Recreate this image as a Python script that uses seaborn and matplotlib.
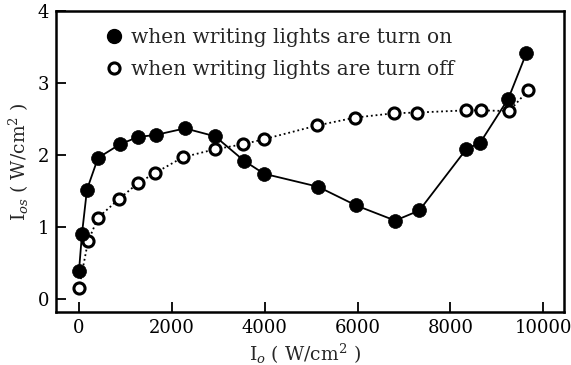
import matplotlib
matplotlib.use("Agg")
import matplotlib.pyplot as plt
from matplotlib.lines import Line2D
import seaborn as sns
import pandas as pd

# Data
x_on = [0, 65, 172, 410, 884, 1272, 1660, 2284, 2931, 3556, 3987, 5150, 5970, 6810, 7330, 8340, 8640, 9246, 9634]
y_on = [0.39, 0.91, 1.52, 1.96, 2.15, 2.25, 2.28, 2.37, 2.26, 1.92, 1.74, 1.56, 1.30, 1.09, 1.23, 2.08, 2.17, 2.78, 3.41]

x_off = [0, 194, 410, 862, 1272, 1638, 2241, 2931, 3534, 3987, 5129, 5948, 6789, 7284, 8340, 8664, 9267, 9677]
y_off = [0.15, 0.80, 1.13, 1.39, 1.61, 1.75, 1.97, 2.08, 2.15, 2.22, 2.41, 2.52, 2.58, 2.59, 2.62, 2.62, 2.61, 2.90]

label_on = "when writing lights are turn on"
label_off = "when writing lights are turn off"
x_ticks = [0, 2000, 4000, 6000, 8000, 10000]
y_ticks = [0, 1, 2, 3, 4]

sns.set_style("ticks")
plt.rcParams["font.family"] = ["DejaVu Serif"]
plt.rcParams["mathtext.fontset"] = "dejavuserif"

fig = plt.figure(figsize=(5.71, 3.65), dpi=100)
ax = fig.add_axes([0.098, 0.145, 0.890, 0.825])

df_on = pd.DataFrame({"x": x_on, "y": y_on})
df_off = pd.DataFrame({"x": x_off, "y": y_off})

sns.lineplot(data=df_off, x="x", y="y", ax=ax, color="black", linestyle=(0, (1, 1.6)),
             linewidth=1.3, marker="o", markersize=8, markerfacecolor="white",
             markeredgecolor="black", markeredgewidth=2.2, sort=False, zorder=3)
sns.lineplot(data=df_on, x="x", y="y", ax=ax, color="black", linestyle="-",
             linewidth=1.3, marker="o", markersize=10, markerfacecolor="black",
             markeredgecolor="black", markeredgewidth=0.5, sort=False, zorder=4)

ax.set_xlim(-496, 10450)
ax.set_ylim(-0.18, 3.97)
ax.set_xticks(x_ticks)
ax.set_yticks(y_ticks)
ax.set_xticklabels([str(t) for t in x_ticks])
ax.set_yticklabels([str(t) for t in y_ticks])
ax.tick_params(direction="in", length=7, width=1.3, labelsize=13, colors="black", pad=5)
for s in ax.spines.values():
    s.set_linewidth(1.8)
    s.set_color("black")

ax.set_xlabel("I$_o$ ( W/cm$^2$ )", fontsize=13.5)
ax.set_ylabel("I$_{os}$ ( W/cm$^2$ )", fontsize=13.5)
ax.xaxis.set_label_coords(0.49, -0.098)
ax.yaxis.set_label_coords(-0.05, 0.5)

handles = [
    Line2D([], [], linestyle="none", marker="o", markersize=10, markerfacecolor="black",
           markeredgecolor="black"),
    Line2D([], [], linestyle="none", marker="o", markersize=8, markerfacecolor="white",
           markeredgecolor="black", markeredgewidth=2.2),
]
ax.legend(handles, [label_on, label_off], loc="upper left", bbox_to_anchor=(0.07, 0.985),
          frameon=False, fontsize=14.5, handletextpad=0.35, labelspacing=0.65,
          handlelength=1.0, borderaxespad=0.2)

fig.savefig("out.png", dpi=100)
